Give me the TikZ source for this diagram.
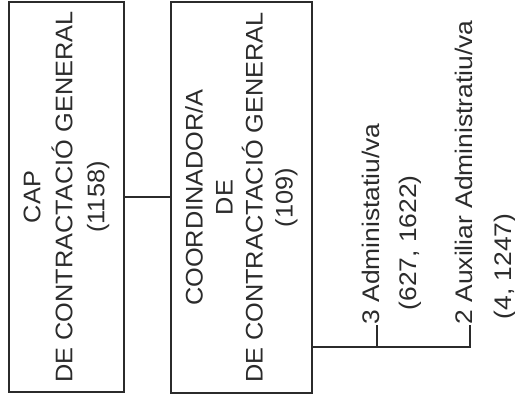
\documentclass[tikz,border=0pt]{standalone}
\usepackage{fontspec}
\setmainfont{Liberation Sans}
\newfontfamily\boxfont[FakeStretch=1.055]{Liberation Sans}
\newfontfamily\labfont[FakeStretch=1.1]{Liberation Sans}
\definecolor{ink}{HTML}{2B2B2B}
\begin{document}
\begin{tikzpicture}[x=1pt,y=-1pt,line width=1.3pt,color=ink,
  orgbox/.style={draw,rotate=90,align=center,inner sep=0pt},
  lab/.style={rotate=90,inner sep=0pt,font=\labfont\fontsize{24}{24}\selectfont}]
\useasboundingbox[fill=white] (0,0) rectangle (515,403);
\node[orgbox,minimum width=390pt,minimum height=115pt,
  font=\boxfont\fontsize{24}{32}\selectfont] (cap) at (66.5,197)
  {CAP\\DE CONTRACTACIÓ GENERAL\\(1158)};
\node[orgbox,minimum width=391pt,minimum height=141pt,
  font=\boxfont\fontsize{24}{30}\selectfont] (coord) at (241.5,197.5)
  {COORDINADOR/A\\DE\\DE CONTRACTACIÓ GENERAL\\(109)};
\node[lab,anchor=mid west] (l1a) at (377,325) {3 Administatiu/va};
\node[lab,anchor=base west] (l1b) at (416,311) {(627, 1622)};
\node[lab,anchor=mid west] (l2a) at (470,325) {2 Auxiliar Administratiu/va};
\node[lab,anchor=base west] (l2b) at (511,320) {(4, 1247)};
\coordinate (j) at (470,347);
\draw (cap.south) -- (cap.south -| coord.north);
\draw (coord.south |- j) -- (j -| l2a.mid west) -- (l2a.mid west);
\draw (l1a.mid west |- j) -- (l1a.mid west);
\end{tikzpicture}
\end{document}
